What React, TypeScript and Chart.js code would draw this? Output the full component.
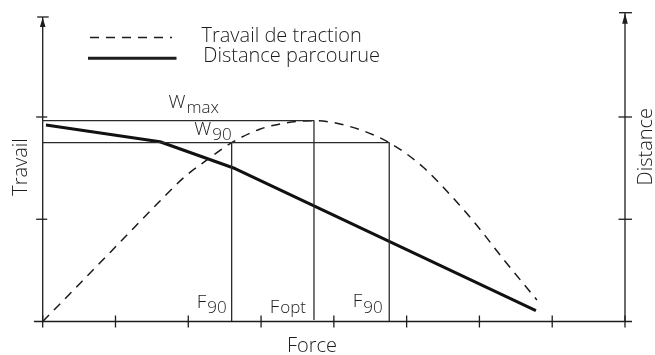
import { useEffect, useRef } from 'react';
import { Chart, registerables } from 'chart.js';

Chart.register(...registerables);

// Force axis ticks (arbitrary units) and work/distance axis ticks
const xTicks = [0, 1, 2, 3, 4, 5, 6, 7, 8];
const yTicks = [0, 1, 2];

// Travail de traction (dashed curve)
const workForce = [0, 0.512, 1.062, 1.611, 1.955, 2.257, 2.596, 2.981, 3.33, 3.727, 4.22, 4.761, 5.224, 5.595, 5.966, 6.323, 6.79];
const workValue = [0, 0.372, 0.775, 1.178, 1.418, 1.58, 1.749, 1.88, 1.941, 1.964, 1.907, 1.749, 1.511, 1.242, 0.939, 0.615, 0.21];

// Distance parcourue (solid line)
const distForce = [0.045, 1.611, 2.642, 6.776];
const distValue = [1.922, 1.758, 1.496, 0.106];

// Reference values: [F90 low, Fopt, F90 high] and [Wmax, W90]
const refForce = [2.596, 3.727, 4.761];
const refWork = [1.964, 1.749];

const FONT = '"Open Sans", Lato, "Liberation Sans", Arial, sans-serif';
const WEIGHT = '350';
const INK = '#1c1c1c';

function pts(xs: number[], ys: number[]) {
  return xs.map((x, i) => ({ x, y: ys[i] }));
}

function font(size: number) {
  return `${WEIGHT} ${size}px ${FONT}`;
}

function drawSub(ctx: CanvasRenderingContext2D, main: string, sub: string, right: number, baseline: number, drop: number) {
  ctx.font = font(19);
  const wm = ctx.measureText(main).width;
  ctx.font = font(17);
  const ws = ctx.measureText(sub).width;
  const left = right - wm - ws - 1;
  ctx.textAlign = 'left';
  ctx.textBaseline = 'alphabetic';
  ctx.font = font(19);
  ctx.fillText(main, left, baseline);
  ctx.font = font(17);
  ctx.fillText(sub, left + wm + 1, baseline + drop);
}

const decor = {
  id: 'decor',
  afterDraw(chart: any) {
    const ctx: CanvasRenderingContext2D = chart.ctx;
    const xs = chart.scales.x;
    const ys = chart.scales.y;
    const px = (v: number) => xs.getPixelForValue(v);
    const py = (v: number) => ys.getPixelForValue(v);
    const x0 = px(0);
    const x8 = px(8);
    const y0 = py(0);
    ctx.save();
    ctx.strokeStyle = INK;
    ctx.fillStyle = INK;
    ctx.lineWidth = 1.3;
    ctx.setLineDash([]);

    const line = (a: number, b: number, c: number, d: number) => {
      ctx.beginPath();
      ctx.moveTo(a, b);
      ctx.lineTo(c, d);
      ctx.stroke();
    };
    const arrow = (x: number, tip: number, base: number) => {
      ctx.beginPath();
      ctx.moveTo(x, tip);
      ctx.lineTo(x - 2.8, base);
      ctx.lineTo(x + 2.8, base);
      ctx.closePath();
      ctx.fill();
    };

    // X axis
    line(34, y0, 632, y0);
    xTicks.forEach((t) => line(px(t), y0 - 6, px(t), y0 + 6));

    // Left axis
    const leftTop = 17;
    line(x0, leftTop, x0, y0);
    line(x0 - 5.5, leftTop, x0 + 6, leftTop);
    arrow(x0, leftTop + 0.5, leftTop + 10);
    yTicks.slice(1).forEach((t) => line(x0 - 6.5, py(t), x0 + 4.5, py(t)));

    // Right axis
    const rightTop = 12.7;
    line(x8, rightTop, x8, y0);
    line(x8 - 6, rightTop, x8 + 7, rightTop);
    arrow(x8, rightTop + 0.5, rightTop + 11);
    yTicks.slice(1).forEach((t) => line(x8 - 6.5, py(t), x8 + 7, py(t)));

    // Axis titles
    ctx.font = font(20);
    ctx.textBaseline = 'alphabetic';
    ctx.textAlign = 'center';
    ctx.fillText('Force', 312, 351.5);

    ctx.save();
    ctx.translate(26.7, 167);
    ctx.rotate(-Math.PI / 2);
    ctx.fillText('Travail', 0, 0);
    ctx.restore();

    ctx.save();
    ctx.translate(651.5, 146.7);
    ctx.rotate(-Math.PI / 2);
    ctx.fillText('Distance', 0, 0);
    ctx.restore();

    // Legend
    ctx.lineWidth = 1.5;
    ctx.setLineDash([9, 7]);
    line(90, 37.5, 172, 37.5);
    ctx.setLineDash([]);
    ctx.lineWidth = 3;
    line(88, 58.3, 176.5, 58.3);
    ctx.font = font(20);
    ctx.textAlign = 'left';
    ctx.fillText('Travail de traction', 201.5, 41.7);
    ctx.fillText('Distance parcourue', 203.3, 62);

    // Annotations
    const fLow = px(refForce[0]);
    const fOpt = px(refForce[1]);
    const fHigh = px(refForce[2]);
    drawSub(ctx, 'W', 'max', 219, 108.3, 4.4);
    drawSub(ctx, 'W', '90', fLow, 135, 5);
    drawSub(ctx, 'F', '90', fLow - 5, 308.3, 5);
    drawSub(ctx, 'F', 'opt', fOpt - 8, 313, 0.3);
    drawSub(ctx, 'F', '90', fHigh - 6.5, 306.7, 6);
    ctx.restore();
  },
};

export default function App() {
  const ref = useRef<HTMLCanvasElement>(null);
  useEffect(() => {
    const thin = { borderColor: '#2a2a2a', borderWidth: 1.3, pointRadius: 0, showLine: true, fill: false, tension: 0 };
    const chart = new Chart(ref.current!, {
      type: 'scatter',
      data: {
        datasets: [
          {
            label: 'Wmax',
            data: [
              { x: 0, y: refWork[0] },
              { x: refForce[1], y: refWork[0] },
              { x: refForce[1], y: 0.02 },
            ],
            ...thin,
          } as any,
          {
            label: 'W90',
            data: [
              { x: 0, y: refWork[1] },
              { x: refForce[2], y: refWork[1] },
              { x: refForce[2], y: 0 },
            ],
            ...thin,
          },
          {
            label: 'F90',
            data: [
              { x: refForce[0], y: refWork[1] },
              { x: refForce[0], y: 0 },
            ],
            ...thin,
          },
          {
            label: 'Travail de traction',
            data: pts(workForce, workValue),
            showLine: true,
            borderColor: '#1a1a1a',
            borderWidth: 1.5,
            borderDash: [9, 7],
            pointRadius: 0,
            cubicInterpolationMode: 'monotone',
            fill: false,
            yAxisID: 'y',
          },
          {
            label: 'Distance parcourue',
            data: pts(distForce, distValue),
            showLine: true,
            borderColor: '#111',
            borderWidth: 3,
            borderJoinStyle: 'round',
            borderCapStyle: 'butt',
            pointRadius: 0,
            tension: 0,
            fill: false,
            yAxisID: 'y2',
          },
        ],
      },
      options: {
        responsive: false,
        animation: false,
        devicePixelRatio: 1,
        layout: { padding: { left: 42.7, right: 30, top: 12.7, bottom: 33.5 } },
        scales: {
          x: { type: 'linear', min: 0, max: 8, display: false },
          y: { type: 'linear', min: 0, max: 3.02, display: false },
          y2: { type: 'linear', min: 0, max: 3.02, display: false, position: 'right' },
        },
        plugins: {
          legend: { display: false },
          tooltip: { enabled: false },
        },
        elements: { line: { borderJoinStyle: 'round' } },
      },
      plugins: [decor],
    });
    return () => chart.destroy();
  }, []);
  return (
    <div style={{ position: 'fixed', left: 0, top: 0, width: 655, height: 355, background: '#fff' }}>
      <canvas ref={ref} width={655} height={355} style={{ display: 'block', width: 655, height: 355 }} />
    </div>
  );
}
